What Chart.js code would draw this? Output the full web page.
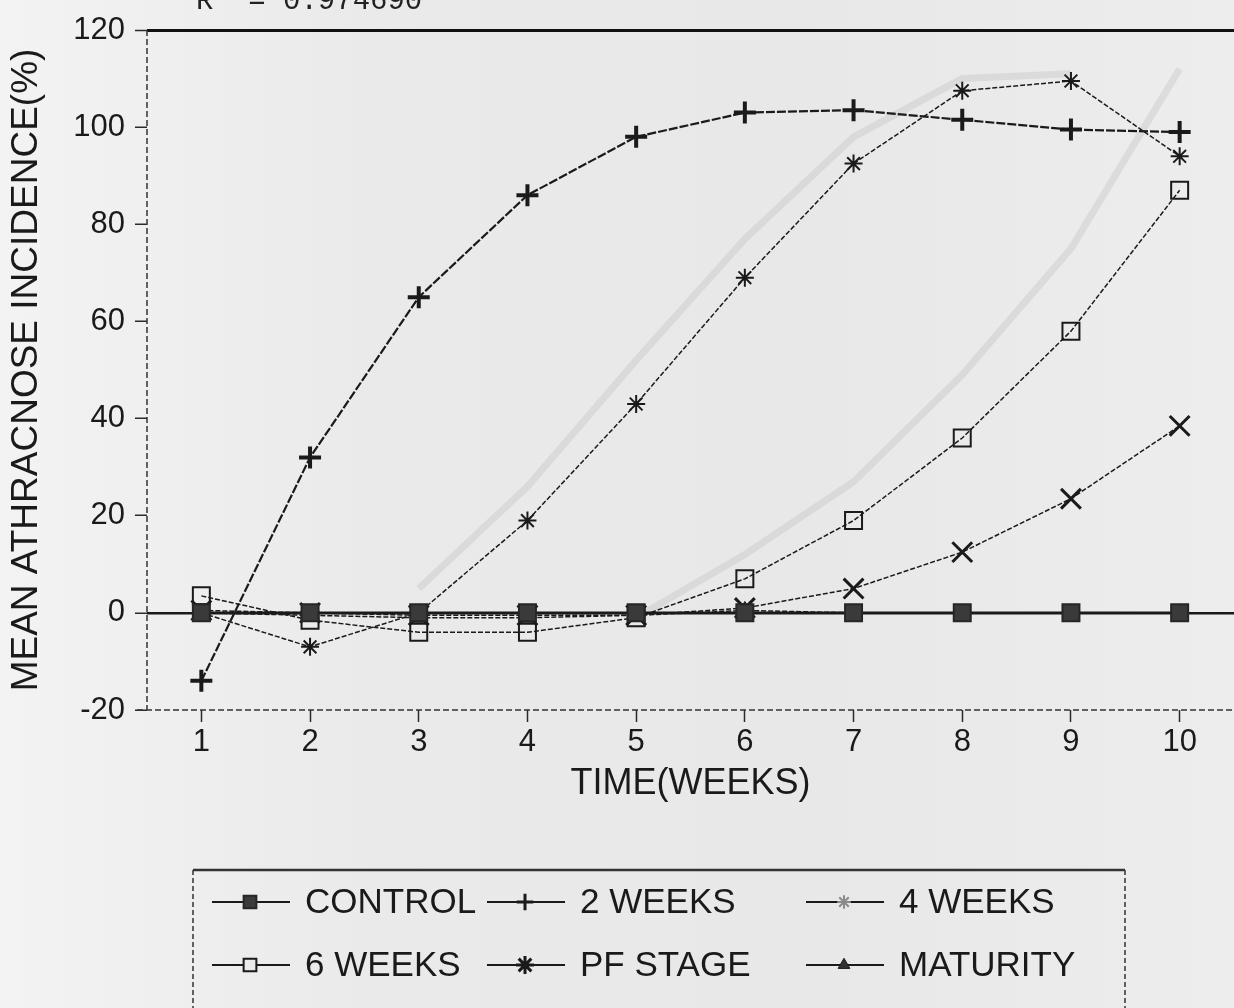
<!DOCTYPE html>
<html>
<head>
<meta charset="utf-8">
<script src="https://cdn.jsdelivr.net/npm/chart.js@4.4.0/dist/chart.umd.min.js"></script>
<style>
  html, body { margin: 0; padding: 0; }
  body {
    width: 1234px; height: 1008px; overflow: hidden;
    background: linear-gradient(90deg, #f3f3f3 0%, #eaeaea 30%, #e8e8e8 65%, #ededed 100%);
  }
  #wrap { position: relative; width: 1234px; height: 1008px; }
</style>
</head>
<body>
<div id="wrap"><canvas id="incidenceChart"></canvas></div>
<script>
// ===== Données =====
const weeks = ["1", "2", "3", "4", "5", "6", "7", "8", "9", "10"];
const control = [0, 0, 0, 0, 0, 0, 0, 0, 0, 0];
const twoWeeks = [-14, 32, 65, 86, 98, 103, 103.5, 101.5, 99.5, 99];
const fourWeeks = [0, -7, 0, 19, 43, 69, 92.5, 107.5, 109.5, 94];
const sixWeeks = [3.5, -1.5, -4, -4, -1, 7, 19, 36, 58, 87];
const pfStage = [0.5, 0, -0.5, -0.5, -0.5, 1, 5, 12.5, 23.5, 38.5];
const maturity = [0, -0.5, -1, -1, -0.5, 0.5, 0, 0, 0, 0];
// traces pâles visibles en fond
const faintStar = [null, null, 5, 26, 52, 77, 98, 110, 111, null];
const faintSquare = [null, null, null, null, -1, 12, 27, 49, 75, 112];
const yTicks = [-20, 0, 20, 40, 60, 80, 100, 120];
const fitText = "R  = 0.974690";

const FONT = "'Liberation Sans', Arial, sans-serif";
const INK = "#1a1a1a";

function series(label, data, style) {
    return Object.assign({
        label: label,
        data: data,
        borderColor: INK,
        borderWidth: 1.5,
        borderDash: [5, 2],
        pointBorderColor: INK,
        pointBackgroundColor: "transparent",
        pointBorderWidth: 2,
        tension: 0,
        spanGaps: false
    }, style);
}

const datasets = [
    series("CONTROL", control, {
        borderWidth: 2.5, borderDash: [],
        pointStyle: "rect", pointRadius: 12, pointBackgroundColor: "#3a3a3a", pointBorderColor: "#262626"
    }),
    series("2 WEEKS", twoWeeks, {
        borderWidth: 2.2, borderDash: [9, 2],
        pointStyle: "cross", pointRadius: 11, pointBorderWidth: 4
    }),
    series("4 WEEKS", fourWeeks, {
        pointStyle: "star", pointRadius: 9, pointBorderWidth: 2, legendColor: "#8a8a8a"
    }),
    series("6 WEEKS", sixWeeks, {
        pointStyle: "rect", pointRadius: 12, pointBorderWidth: 2
    }),
    series("PF STAGE", pfStage, {
        pointStyle: "crossRot", pointRadius: 14, pointBorderWidth: 3, legendStyle: "star"
    }),
    series("MATURITY", maturity, {
        pointStyle: "triangle", pointRadius: 9, pointBackgroundColor: "#333", pointBorderWidth: 1
    }),
    series("", faintStar, {
        borderColor: "rgba(150,150,150,0.18)", borderWidth: 7, borderDash: [], pointRadius: 0, legend: false
    }),
    series("", faintSquare, {
        borderColor: "rgba(150,150,150,0.18)", borderWidth: 7, borderDash: [], pointRadius: 0, legend: false
    })
];

// ===== Axes en pointillés =====
const dashedAxes = {
    id: "dashedAxes",
    beforeDatasetsDraw(chart) {
        const { ctx, chartArea } = chart;
        ctx.save();
        ctx.strokeStyle = "#333";
        ctx.lineWidth = 1.5;
        ctx.setLineDash([6, 3]);
        ctx.beginPath();
        ctx.moveTo(chartArea.left, chartArea.top);
        ctx.lineTo(chartArea.left, chartArea.bottom);
        ctx.moveTo(chartArea.left - 10, chartArea.bottom);
        ctx.lineTo(chartArea.right, chartArea.bottom);
        ctx.stroke();
        ctx.restore();
    }
};

// ===== Légende et annotation =====
const legendBox = {
    id: "legendBox",
    afterDraw(chart) {
        const ctx = chart.ctx;
        ctx.save();

        // valeur du R² en haut, coupée par le bord
        ctx.fillStyle = "#222";
        ctx.font = "29px 'Liberation Mono', monospace";
        ctx.textBaseline = "alphabetic";
        ctx.fillText(fitText, 196, 9);
        ctx.font = "18px 'Liberation Mono', monospace";
        ctx.fillText("2", 214, -6);

        // cadre
        ctx.strokeStyle = "#333";
        ctx.lineWidth = 2.5;
        ctx.beginPath();
        ctx.moveTo(193, 870);
        ctx.lineTo(1125, 870);
        ctx.stroke();
        ctx.lineWidth = 1.5;
        ctx.setLineDash([5, 3]);
        ctx.beginPath();
        ctx.moveTo(193, 870); ctx.lineTo(193, 1008);
        ctx.moveTo(1125, 870); ctx.lineTo(1125, 1008);
        ctx.stroke();
        ctx.setLineDash([]);

        const cols = [212, 487, 806];
        const rows = [902, 965];
        const items = chart.data.datasets.filter(d => d.legend !== false);
        items.forEach((ds, i) => {
            const x = cols[i % 3];
            const y = rows[Math.floor(i / 3)];
            ctx.strokeStyle = INK;
            ctx.lineWidth = 1.8;
            ctx.beginPath();
            ctx.moveTo(x, y);
            ctx.lineTo(x + 78, y);
            ctx.stroke();
            const col = ds.legendColor || ds.pointBorderColor;
            ctx.strokeStyle = col;
            ctx.fillStyle = ds.pointBackgroundColor === "transparent" ? "#ebebeb" : ds.pointBackgroundColor;
            ctx.lineWidth = Math.min(ds.pointBorderWidth, 3);
            Chart.helpers.drawPoint(ctx, {
                pointStyle: ds.legendStyle || ds.pointStyle,
                radius: Math.min(ds.pointRadius * 0.75, 9),
                rotation: 0,
                borderWidth: ctx.lineWidth
            }, x + 38, y);
            ctx.fillStyle = INK;
            ctx.font = "35px " + FONT;
            ctx.textBaseline = "middle";
            ctx.fillText(ds.label, x + 93, y + 1);
        });
        ctx.restore();
    }
};

const chart = new Chart(document.getElementById("incidenceChart"), {
    type: "line",
    data: { labels: weeks, datasets: datasets },
    options: {
        responsive: true,
        maintainAspectRatio: false,
        animation: false,
        events: [],
        layout: {
            autoPadding: false,
            padding: { top: 30, right: 0, bottom: 198, left: 0 }
        },
        plugins: {
            legend: { display: false },
            tooltip: { enabled: false }
        },
        scales: {
            x: {
                type: "category",
                offset: true,
                afterFit: (scale) => { scale.height = 100; },
                grid: {
                    offset: false,
                    color: "transparent",
                    drawTicks: true,
                    tickLength: 12,
                    tickColor: "#2a2a2a",
                    tickWidth: 1.5
                },
                border: { display: false },
                ticks: {
                    color: INK,
                    font: { family: FONT, size: 31 },
                    padding: 2,
                    maxRotation: 0
                },
                title: {
                    display: true,
                    text: "TIME(WEEKS)",
                    color: INK,
                    font: { family: FONT, size: 36 },
                    padding: { top: 0, bottom: 4 }
                }
            },
            y: {
                min: -20,
                max: 120,
                afterFit: (scale) => { scale.width = 147; },
                afterBuildTicks: (scale) => { scale.ticks = yTicks.map(v => ({ value: v })); },
                grid: {
                    color: (c) => c.tick && c.tick.value === 120 ? "#111" : (c.tick && c.tick.value === 0 ? "#1a1a1a" : "transparent"),
                    lineWidth: (c) => c.tick && c.tick.value === 120 ? 3 : 2.5,
                    drawTicks: true,
                    tickLength: 12,
                    tickColor: "#2a2a2a",
                    tickWidth: 1.5
                },
                border: { display: false },
                ticks: {
                    color: INK,
                    font: { family: FONT, size: 31 },
                    padding: 10
                },
                title: {
                    display: true,
                    text: "MEAN ATHRACNOSE INCIDENCE(%)",
                    color: INK,
                    font: { family: FONT, size: 37 },
                    padding: { top: 5, bottom: 0 }
                }
            }
        }
    },
    plugins: [dashedAxes, legendBox]
});
</script>
</body>
</html>
